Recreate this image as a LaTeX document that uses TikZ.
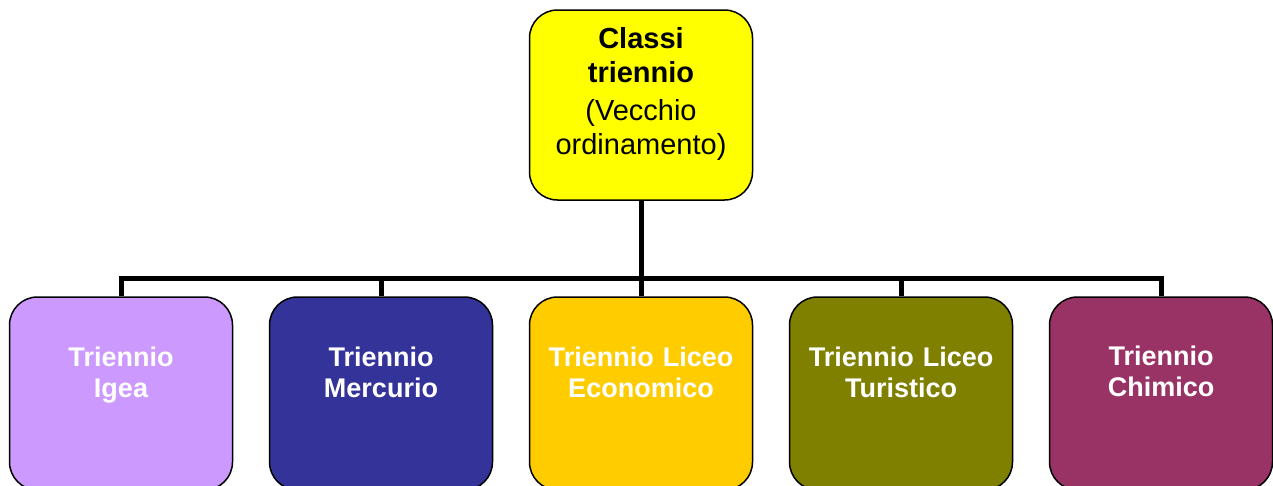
\documentclass[tikz,border=0pt]{standalone}
\usepackage{fontspec}
\setmainfont{Liberation Sans}
\begin{document}
\begin{tikzpicture}[x=1pt,y=-1pt,
  box/.style={draw=black, line width=1.5pt, rounded corners=28pt, rectangle, minimum width=223pt, inner sep=0pt},
  topbox/.style={box, minimum height=190pt, fill=topyellow},
  lowbox/.style={box, minimum height=193pt},
  conn/.style={line width=5pt, line join=miter, draw=black},
  lowtext/.style={text=white, font=\fontsize{27}{31}\selectfont\bfseries, align=center, text width=223pt, inner sep=0pt, anchor=base},
  toptext/.style={text=black, font=\fontsize{29}{34}\selectfont, align=center, text width=223pt, inner sep=0pt, anchor=base}]
\definecolor{topyellow}{HTML}{FFFF00}
\definecolor{cIgea}{HTML}{CC99FF}
\definecolor{cMerc}{HTML}{333399}
\definecolor{cEco}{HTML}{FFCC00}
\definecolor{cTur}{HTML}{808000}
\definecolor{cChim}{HTML}{993366}
\useasboundingbox (0,0) rectangle (1273,485);

\node[topbox] (top) at (641,105) {};
\node[lowbox, fill=cIgea] (b1) at (121,393.5) {};
\node[lowbox, fill=cMerc] (b2) at (381,393.5) {};
\node[lowbox, fill=cEco] (b3) at (641,393.5) {};
\node[lowbox, fill=cTur] (b4) at (901,393.5) {};
\node[lowbox, fill=cChim] (b5) at (1161,393.5) {};

\node[toptext] (ttop) at (641,48) {\textbf{Classi}\\\textbf{triennio}\\[4pt](Vecchio\\ordinamento)};
\node[lowtext] (t1) at (121,366) {Triennio\\Igea};
\node[lowtext] (t2) at (381,366) {Triennio\\Mercurio};
\node[lowtext] (t3) at (641,366) {Triennio Liceo\\Economico};
\node[lowtext] (t4) at (901,366) {Triennio Liceo\\Turistico};
\node[lowtext] (t5) at (1161,365) {Triennio\\Chimico};

\coordinate (j) at (641,278);
\draw[conn] (top.south) -- (j);
\draw[conn] (b1.north) -- (b1.north |- j) -- (b5.north |- j) -- (b5.north);
\draw[conn] (b2.north) -- (b2.north |- j);
\draw[conn] (b3.north) -- (b3.north |- j);
\draw[conn] (b4.north) -- (b4.north |- j);
\end{tikzpicture}
\end{document}
